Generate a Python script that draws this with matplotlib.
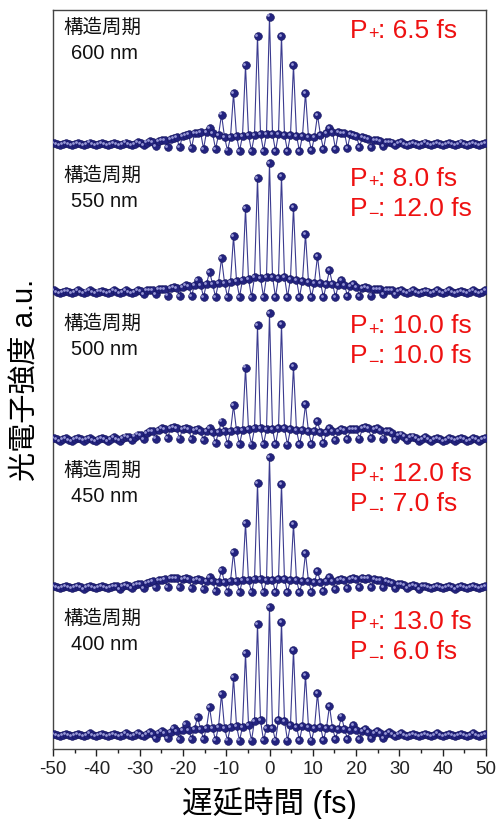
import numpy as np
import matplotlib
matplotlib.use('Agg')
import matplotlib.pyplot as plt
from matplotlib.transforms import offset_copy
from matplotlib.ticker import MultipleLocator

plt.rcParams['font.family'] = ['Liberation Sans', 'Noto Sans CJK JP', 'DejaVu Sans']
plt.rcParams['axes.unicode_minus'] = False

# fringe period of the autocorrelation (fs), sampled four times per period
FRINGE_PERIOD = 2.77
SAMPLES_PER_PERIOD = 4

periods = ['600 nm', '550 nm', '500 nm', '450 nm', '400 nm']
p_plus = ['6.5 fs', '8.0 fs', '10.0 fs', '12.0 fs', '13.0 fs']
p_minus = [None, '12.0 fs', '10.0 fs', '7.0 fs', '6.0 fs']

# ---- 600 nm ----
peaks_600 = [1.07, 1.06, 1.07, 1.08, 1.07, 1.06, 1.08, 1.09, 1.14, 1.22, 1.33, 1.49, 1.60, 1.89, 2.61, 3.77, 5.29, 6.92,
             7.96,
             6.92, 5.31, 3.79, 2.58, 1.87, 1.58, 1.47, 1.31, 1.20, 1.13, 1.09, 1.07, 1.08, 1.06, 1.07, 1.08, 1.06, 1.07]
troughs_600 = [0.93, 0.94, 0.93, 0.92, 0.93, 0.94, 0.93, 0.92, 0.89, 0.84, 0.81, 0.78, 0.73, 0.73, 0.64, 0.62, 0.62, 0.62,
               0.62, 0.62, 0.62, 0.65, 0.72, 0.74, 0.78, 0.82, 0.85, 0.89, 0.93, 0.92, 0.93, 0.94, 0.93, 0.92, 0.93, 0.94]
mids_600 = [1.00, 1.01, 0.99, 1.00, 1.01, 1.00, 0.99, 1.00, 1.01, 1.00, 0.99, 1.00, 1.01, 1.00,
            1.05, 1.08, 1.11, 1.16, 1.22, 1.27, 1.38, 1.44, 1.55, 1.60, 1.66, 1.66, 1.60, 1.49, 1.38, 1.38, 1.44, 1.44,
            1.49, 1.49, 1.55, 1.55,
            1.55, 1.55, 1.49, 1.49, 1.44, 1.44, 1.38, 1.38, 1.49, 1.60, 1.66, 1.66, 1.60, 1.55, 1.44, 1.38, 1.27, 1.22,
            1.16, 1.11, 1.08, 1.05,
            1.00, 0.99, 1.01, 1.00, 1.00, 1.01, 0.99, 1.00, 1.01, 1.00, 0.99, 1.00, 1.01, 1.00]

# ---- 550 nm ----
peaks_550 = [1.07, 1.06, 1.08, 1.07, 1.06, 1.07, 1.08, 1.09, 1.11, 1.16, 1.25, 1.38, 1.62, 2.08, 2.84, 4.04, 5.57, 7.23,
             8.03,
             7.34, 5.63, 4.15, 2.95, 2.16, 1.62, 1.40, 1.26, 1.17, 1.11, 1.09, 1.07, 1.06, 1.08, 1.07, 1.06, 1.07, 1.08]
troughs_550 = [0.93, 0.92, 0.94, 0.93, 0.92, 0.93, 0.94, 0.87, 0.85, 0.79, 0.78, 0.77, 0.72, 0.71, 0.70, 0.71, 0.70, 0.71,
               0.71, 0.70, 0.71, 0.71, 0.70, 0.72, 0.77, 0.78, 0.79, 0.85, 0.87, 0.94, 0.93, 0.92, 0.93, 0.94, 0.92, 0.93]
mids_550 = [1.00, 0.99, 1.01, 1.00, 0.99, 1.01, 1.00, 1.01, 0.99, 1.00, 1.01, 1.00, 0.99, 1.00,
            1.05, 1.08, 1.11, 1.14, 1.16, 1.19, 1.22, 1.27, 1.33, 1.38, 1.38, 1.44, 1.44, 1.49, 1.49, 1.55, 1.60, 1.66,
            1.71, 1.82, 1.77, 1.82,
            1.82, 1.77, 1.82, 1.71, 1.66, 1.60, 1.55, 1.49, 1.49, 1.44, 1.44, 1.38, 1.38, 1.33, 1.27, 1.22, 1.19, 1.16,
            1.14, 1.11, 1.08, 1.05,
            1.00, 1.01, 0.99, 1.00, 1.01, 1.00, 0.99, 1.01, 1.00, 0.99, 1.00, 1.01, 1.00, 0.99]

# ---- 500 nm ----
peaks_500 = [1.07, 1.06, 1.08, 1.07, 1.06, 1.11, 1.16, 1.27, 1.44, 1.60, 1.66, 1.60, 1.55, 1.60, 1.98, 2.86, 4.93, 7.23,
             7.89,
             7.28, 4.99, 2.91, 2.00, 1.62, 1.55, 1.58, 1.66, 1.62, 1.44, 1.27, 1.16, 1.11, 1.07, 1.08, 1.06, 1.07, 1.08]
troughs_500 = [0.93, 0.92, 0.94, 0.93, 0.92, 0.94, 0.96, 1.00, 1.05, 1.06, 1.05, 1.03, 0.95, 0.80, 0.74, 0.73, 0.72, 0.73,
               0.73, 0.72, 0.73, 0.74, 0.80, 0.95, 1.03, 1.05, 1.06, 1.05, 1.00, 0.96, 0.94, 0.92, 0.93, 0.94, 0.92, 0.93]
mids_500 = [1.00, 1.01, 0.99, 1.00, 1.01, 1.00, 0.99, 1.00, 1.01, 1.02, 1.04, 1.08,
            1.11, 1.16, 1.22, 1.33, 1.44, 1.49, 1.55, 1.60, 1.60, 1.55, 1.55, 1.49, 1.44, 1.44, 1.38, 1.38, 1.44, 1.44,
            1.49, 1.49, 1.55, 1.60, 1.60, 1.55,
            1.55, 1.60, 1.60, 1.55, 1.49, 1.49, 1.44, 1.44, 1.38, 1.38, 1.44, 1.44, 1.49, 1.55, 1.55, 1.60, 1.60, 1.55,
            1.49, 1.44, 1.33, 1.22, 1.16, 1.11,
            1.08, 1.04, 1.02, 1.01, 1.00, 0.99, 1.00, 1.01, 1.00, 0.99, 1.01, 1.00]

# ---- 450 nm ----
peaks_450 = [1.07, 1.08, 1.06, 1.07, 1.08, 1.07, 1.11, 1.16, 1.27, 1.38, 1.49, 1.49, 1.44, 1.55, 1.93, 2.91, 4.50, 6.68,
             8.10,
             6.63, 4.44, 2.86, 1.90, 1.53, 1.44, 1.49, 1.47, 1.38, 1.27, 1.16, 1.11, 1.07, 1.06, 1.08, 1.07, 1.06, 1.07]
troughs_450 = [0.93, 0.94, 0.92, 0.93, 0.94, 0.92, 0.93, 0.96, 0.99, 1.01, 1.00, 0.97, 0.90, 0.80, 0.73, 0.72, 0.73, 0.72,
               0.72, 0.73, 0.72, 0.73, 0.80, 0.90, 0.97, 1.00, 1.01, 0.99, 0.96, 0.93, 0.92, 0.94, 0.93, 0.92, 0.94, 0.93]
mids_450 = [1.00, 0.99, 1.01, 1.00, 0.99, 1.01, 1.00, 1.01, 1.00, 1.02, 1.04, 1.06,
            1.08, 1.11, 1.16, 1.22, 1.33, 1.38, 1.44, 1.49, 1.49, 1.44, 1.44, 1.38, 1.38, 1.33, 1.33, 1.27, 1.27, 1.33,
            1.33, 1.38, 1.38, 1.44, 1.44, 1.38,
            1.38, 1.44, 1.44, 1.38, 1.38, 1.33, 1.33, 1.27, 1.27, 1.33, 1.33, 1.38, 1.38, 1.44, 1.44, 1.49, 1.49, 1.44,
            1.38, 1.33, 1.22, 1.16, 1.11, 1.08,
            1.06, 1.04, 1.02, 1.00, 1.01, 1.00, 0.99, 1.01, 1.00, 0.99, 1.01, 1.00]

# ---- 400 nm ----
peaks_400 = [1.07, 1.06, 1.07, 1.08, 1.06, 1.07, 1.08, 1.09, 1.14, 1.22, 1.37, 1.60, 1.97, 2.51, 3.24, 4.15, 5.46, 7.07,
             7.98,
             7.17, 5.64, 4.26, 3.28, 2.58, 2.00, 1.55, 1.31, 1.22, 1.14, 1.09, 1.07, 1.06, 1.08, 1.07, 1.06, 1.08, 1.07]
troughs_400 = [0.93, 0.92, 0.94, 0.93, 0.92, 0.93, 0.94, 0.93, 0.84, 0.84, 0.78, 0.78, 0.78, 0.70, 0.69, 0.69, 0.69, 0.70,
               0.69, 0.69, 0.70, 0.69, 0.70, 0.78, 0.78, 0.79, 0.84, 0.85, 0.93, 0.94, 0.92, 0.93, 0.94, 0.92, 0.93, 0.94]
mids_400 = [1.00, 1.01, 0.99, 1.00, 1.01, 1.00, 0.99, 1.01, 1.00, 0.99, 1.00, 1.01, 1.00, 1.01, 1.02,
            1.03, 1.05, 1.08, 1.11, 1.16, 1.22, 1.27, 1.27, 1.33, 1.33, 1.38, 1.38, 1.44, 1.38, 1.44, 1.49, 1.44, 1.55,
            1.77, 1.80, 1.38,
            1.38, 1.82, 1.77, 1.55, 1.44, 1.49, 1.44, 1.38, 1.44, 1.38, 1.38, 1.33, 1.33, 1.27, 1.27, 1.22, 1.16, 1.11,
            1.08, 1.05, 1.03,
            1.02, 1.00, 1.01, 0.99, 1.00, 1.01, 1.00, 0.99, 1.01, 1.00, 0.99, 1.00, 1.01, 1.00, 0.99]

traces = [
    (peaks_600, troughs_600, mids_600),
    (peaks_550, troughs_550, mids_550),
    (peaks_500, troughs_500, mids_500),
    (peaks_450, troughs_450, mids_450),
    (peaks_400, troughs_400, mids_400),
]

PANEL_SHIFT = 8.07
RED = '#ee1111'


def assemble(peaks, troughs, mids):
    # order the samples along the delay axis: max, quarter, min, three-quarter, ...
    vals = []
    for k in range(len(troughs)):
        vals += [peaks[k], mids[2 * k], troughs[k], mids[2 * k + 1]]
    vals.append(peaks[-1])
    return np.array(vals)


def p_label(ax, x, y, sign, value):
    # "P" with a small lowered sign, then ": value"
    ax.text(x, y, 'P', fontsize=19, color=RED, ha='left', va='baseline')
    drop = -1.2 if sign == '+' else -2.6
    ax.annotate(sign, (x, y), xytext=(12.7, drop), textcoords='offset points',
                fontsize=13, color=RED, ha='left', va='baseline')
    ax.annotate(': ' + value, (x, y), xytext=(20.2, 0), textcoords='offset points',
                fontsize=19, color=RED, ha='left', va='baseline')


fig = plt.figure(figsize=(4.99, 8.19), dpi=100)
ax = fig.add_axes([53 / 499, 1 - 749 / 819, 433 / 499, 739 / 819])

n_half = (len(peaks_600) - 1) // 2 * SAMPLES_PER_PERIOD
delay = np.arange(-n_half, n_half + 1) * FRINGE_PERIOD / SAMPLES_PER_PERIOD

shine = offset_copy(ax.transData, fig=fig, x=-0.8, y=0.8, units='points')
n_panels = len(traces)
for i, (pk, tr, md) in enumerate(traces):
    y = assemble(pk, tr, md) + (n_panels - 1 - i) * PANEL_SHIFT
    ax.plot(delay, y, '-', color='#3b3b8f', lw=0.8, zorder=2)
    ax.plot(delay, y, 'o', ms=5.6, mfc='#23237f', mec='#15155c', mew=0.4, zorder=3)
    ax.plot(delay, y, 'o', ms=2.0, mfc='#a6a6e0', mec='none', alpha=0.9, zorder=4, transform=shine)

    base = 1 + (n_panels - 1 - i) * PANEL_SHIFT
    ax.text(-47.7, base + 6.85, '構造周期', fontsize=14, va='top', ha='left', color='#111111')
    ax.text(-45.9, base + 5.45, periods[i], fontsize=14.5, va='top', ha='left', color='#111111')
    p_label(ax, 18.6, base + 5.8, '+', p_plus[i])
    if p_minus[i] is not None:
        p_label(ax, 18.6, base + 4.15, '\u2212', p_minus[i])

ax.set_xlim(-50, 50)
ax.set_ylim(0.23, 40.6)
ax.xaxis.set_major_locator(MultipleLocator(10))
ax.xaxis.set_minor_locator(MultipleLocator(5))
ax.tick_params(axis='x', which='major', direction='out', length=5, width=1, labelsize=13.5, colors='#222222')
ax.tick_params(axis='x', which='minor', direction='out', length=3, width=1, colors='#222222')
ax.set_yticks([])
for sp in ax.spines.values():
    sp.set_color('#444444')
    sp.set_linewidth(1.0)

ax.set_xlabel('遅延時間 (fs)', fontsize=22)
ax.xaxis.set_label_coords(0.5, -0.052)
ax.xaxis.label.set_va('top')
ax.set_ylabel('光電子強度 a.u.', fontsize=21)
ax.yaxis.set_label_coords(-0.032, 0.5)

fig.savefig('out.png', dpi=100)
